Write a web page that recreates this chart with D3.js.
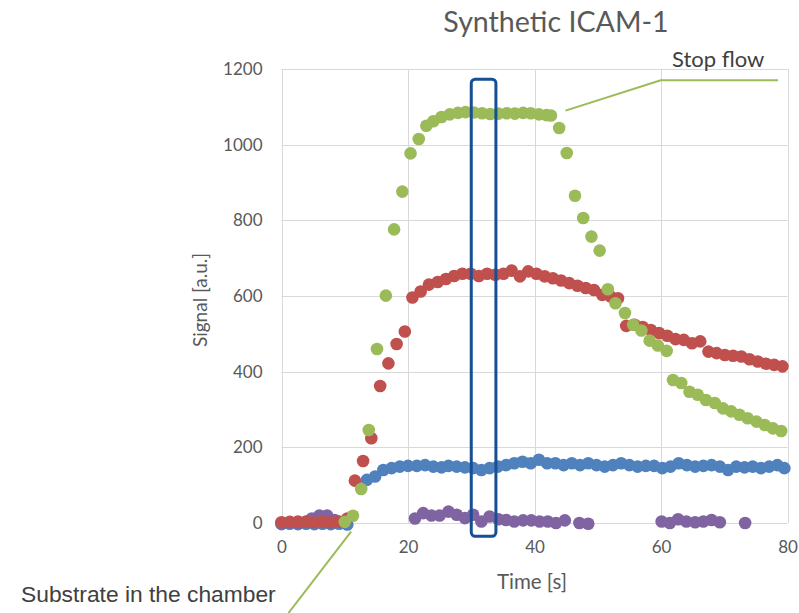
<!DOCTYPE html>
<html><head><meta charset="utf-8">
<script src="https://cdn.jsdelivr.net/npm/d3@7/dist/d3.min.js"></script>
<style>body{margin:0;background:#fff}</style>
</head><body><svg id="chart" width="799" height="613"></svg>
<script>
const chartTitle = "Synthetic ICAM-1";
const xLabel = "Time [s]";
const yLabel = "Signal [a.u.]";
const xTicks = [0, 20, 40, 60, 80];
const yTicks = [0, 200, 400, 600, 800, 1000, 1200];

const blueTime = [0,1.3,2.6,3.9,5.2,6.5,7.8,9.1,10.4,13.5,14.8,16.1,17.4,18.7,20.0,21.4,22.7,24.0,25.3,26.4,27.7,29.0,30.3,31.6,32.9,34.2,35.5,36.8,38.1,39.4,40.7,42.0,43.3,44.6,45.9,47.2,48.5,49.8,51.1,52.4,53.7,55.0,56.3,57.6,58.9,60.2,61.5,62.8,64.1,65.4,66.7,68.0,69.3,70.6,71.9,73.2,74.5,75.8,77.1,78.4,79.5];
const blueSignal = [-3,-2,-3,-2,-3,-2,-3,-2,-4,114,123,140,145,149,151,151,153,149,147,151,149,147,145,140,145,149,153,158,162,158,167,158,158,153,158,153,158,153,149,153,158,153,149,151,151,145,149,158,153,149,151,153,149,140,149,147,149,145,149,153,145];

const purpleTime = [0,1.3,2.6,3.9,4.8,6.0,7.2,8.4,21.1,22.4,23.7,25.0,26.4,27.7,29.0,30.3,31.6,32.9,34.3,35.5,36.8,38.2,39.5,40.8,42.1,43.4,44.8,47.1,48.5,60.1,61.4,62.7,64.0,65.4,66.7,68.0,69.3,73.3];
const purpleSignal = [0,2,0,4,12,20,20,8,12,26,20,20,30,22,13,22,4,17,10,8,4,7,7,4,4,0,7,0,-2,4,0,10,4,2,4,8,2,0];

const redTime = [0,1.3,2.6,3.9,5.2,6.5,7.8,9.1,10.4,11.6,12.9,14.2,15.6,16.9,18.2,19.5,20.7,22.0,23.3,24.7,26.0,27.3,28.6,29.9,31.2,32.5,33.8,35.1,36.4,37.7,39.0,40.3,41.6,42.9,44.2,45.5,46.8,48.1,49.4,50.7,52.0,53.2,54.5,55.8,57.1,58.4,59.7,61.0,62.3,63.6,64.9,66.2,67.5,68.8,70.1,71.4,72.7,74.0,75.3,76.6,77.9,79.2];
const redSignal = [2,3,4,3,2,3,2,4,12,112,164,224,362,422,473,506,596,612,630,637,645,653,659,659,653,659,656,659,667,652,665,659,652,647,641,634,627,621,616,603,599,594,521,524,518,510,502,495,486,484,475,480,453,449,444,442,440,433,427,421,418,414];

const greenTime = [10.0,11.3,12.6,13.8,15.1,16.5,17.8,19.1,20.4,21.7,22.9,24.0,25.3,26.6,27.9,29.1,30.4,31.7,33.0,34.3,35.6,36.9,38.2,39.4,40.7,41.9,42.6,43.9,45.1,46.4,47.7,49.0,50.3,51.6,52.8,54.3,55.6,56.9,58.2,59.5,60.9,61.9,63.2,64.5,65.8,67.1,68.5,69.8,71.1,72.4,73.7,75.1,76.4,77.7,79.0];
const greenSignal = [3,19,90,246,460,601,776,876,977,1015,1050,1062,1073,1080,1084,1086,1085,1083,1081,1082,1083,1082,1084,1083,1080,1078,1077,1044,978,865,806,757,720,618,581,555,524,509,482,469,455,378,370,347,339,325,317,303,295,286,277,268,259,250,243];

const seriesNames = ["Series1", "Series4", "Series2", "Series3"];
const seriesColors = ["#4f81bd", "#8064a2", "#c0504d", "#9bbb59"];

// highlighted window (data units)
const highlightTimes = [30.0, 33.9];
const highlightSignals = [-35, 1173];

// annotations (data units)
const stopFlowText = "Stop flow";
const stopFlowLineTime = [44.9, 59.95, 78.5];
const stopFlowLineSignal = [1090, 1170, 1170];
const substrateText = "Substrate in the chamber";
const substrateLineTime = [11.0, 1.1];
const substrateLineSignal = [-23, -238];

const plot = {left: 281.5, right: 787.5, top: 69, bottom: 523};
const svg = d3.select("#chart");
const x = d3.scaleLinear().domain([0, 80]).range([plot.left, plot.right]);
const y = d3.scaleLinear().domain([0, 1200]).range([plot.bottom, plot.top]);

const font = "Lato, 'Open Sans', sans-serif";
const grid = "#d9d9d9";

// gridlines
svg.append("g").selectAll("line").data(yTicks).join("line")
  .attr("x1", plot.left).attr("x2", plot.right)
  .attr("y1", d => Math.round(y(d)) + 0.5).attr("y2", d => Math.round(y(d)) + 0.5)
  .attr("stroke", grid).attr("stroke-width", 1);
svg.append("g").selectAll("line").data(xTicks).join("line")
  .attr("y1", plot.top).attr("y2", plot.bottom)
  .attr("x1", d => Math.round(x(d)) + 0.5).attr("x2", d => Math.round(x(d)) + 0.5)
  .attr("stroke", grid).attr("stroke-width", 1);

// axes (labels only)
const yAxis = svg.append("g").attr("transform", `translate(${plot.left},0)`)
  .call(d3.axisLeft(y).tickValues(yTicks).tickSize(0).tickPadding(19).tickFormat(d3.format("d")));
const xAxis = svg.append("g").attr("transform", `translate(0,${plot.bottom})`)
  .call(d3.axisBottom(x).tickValues(xTicks).tickSize(0).tickPadding(18).tickFormat(d3.format("d")));
[yAxis, xAxis].forEach(a => {
  a.select(".domain").remove();
  a.selectAll("text").attr("fill", "#595959").style("font-family", font).style("font-size", "17px");
});

// series
const series = [
  {t: blueTime, v: blueSignal},
  {t: purpleTime, v: purpleSignal},
  {t: redTime, v: redSignal},
  {t: greenTime, v: greenSignal}
];
series.forEach((s, i) => {
  const pts = s.t.map((t, j) => [t, s.v[j]]);
  svg.append("g").attr("class", seriesNames[i]).selectAll("circle").data(pts).join("circle")
    .attr("cx", d => x(d[0])).attr("cy", d => y(d[1])).attr("r", 6.3)
    .attr("fill", seriesColors[i]);
});

// highlight rectangle
svg.append("rect")
  .attr("x", x(highlightTimes[0])).attr("y", y(highlightSignals[1]))
  .attr("width", x(highlightTimes[1]) - x(highlightTimes[0]))
  .attr("height", y(highlightSignals[0]) - y(highlightSignals[1]))
  .attr("rx", 4).attr("ry", 4)
  .attr("fill", "none").attr("stroke", "#164f94").attr("stroke-width", 3);

// annotations
const line = d3.line().x(d => x(d[0])).y(d => y(d[1]));
svg.append("path")
  .attr("d", line(stopFlowLineTime.map((t, i) => [t, stopFlowLineSignal[i]])))
  .attr("fill", "none").attr("stroke", "#9bbb59").attr("stroke-width", 2);
svg.append("path")
  .attr("d", line(substrateLineTime.map((t, i) => [t, substrateLineSignal[i]])))
  .attr("fill", "none").attr("stroke", "#9bbb59").attr("stroke-width", 2);

svg.append("text").attr("x", 672).attr("y", 67)
  .style("font-family", font).style("font-size", "22px").attr("fill", "#404040")
  .text(stopFlowText);
svg.append("text").attr("x", 21).attr("y", 602)
  .style("font-family", "'Liberation Sans', Arial, sans-serif").style("font-size", "22.8px").attr("fill", "#404040")
  .text(substrateText);

// titles
svg.append("text").attr("x", 556).attr("y", 32).attr("text-anchor", "middle")
  .style("font-family", font).style("font-size", "28.6px").attr("fill", "#595959")
  .text(chartTitle);
svg.append("text").attr("x", 532).attr("y", 589).attr("text-anchor", "middle")
  .style("font-family", font).style("font-size", "20.5px").attr("fill", "#595959")
  .text(xLabel);
svg.append("text").attr("transform", "translate(207,300) rotate(-90)").attr("text-anchor", "middle")
  .style("font-family", font).style("font-size", "19px").attr("fill", "#595959")
  .text(yLabel);
</script></body></html>
